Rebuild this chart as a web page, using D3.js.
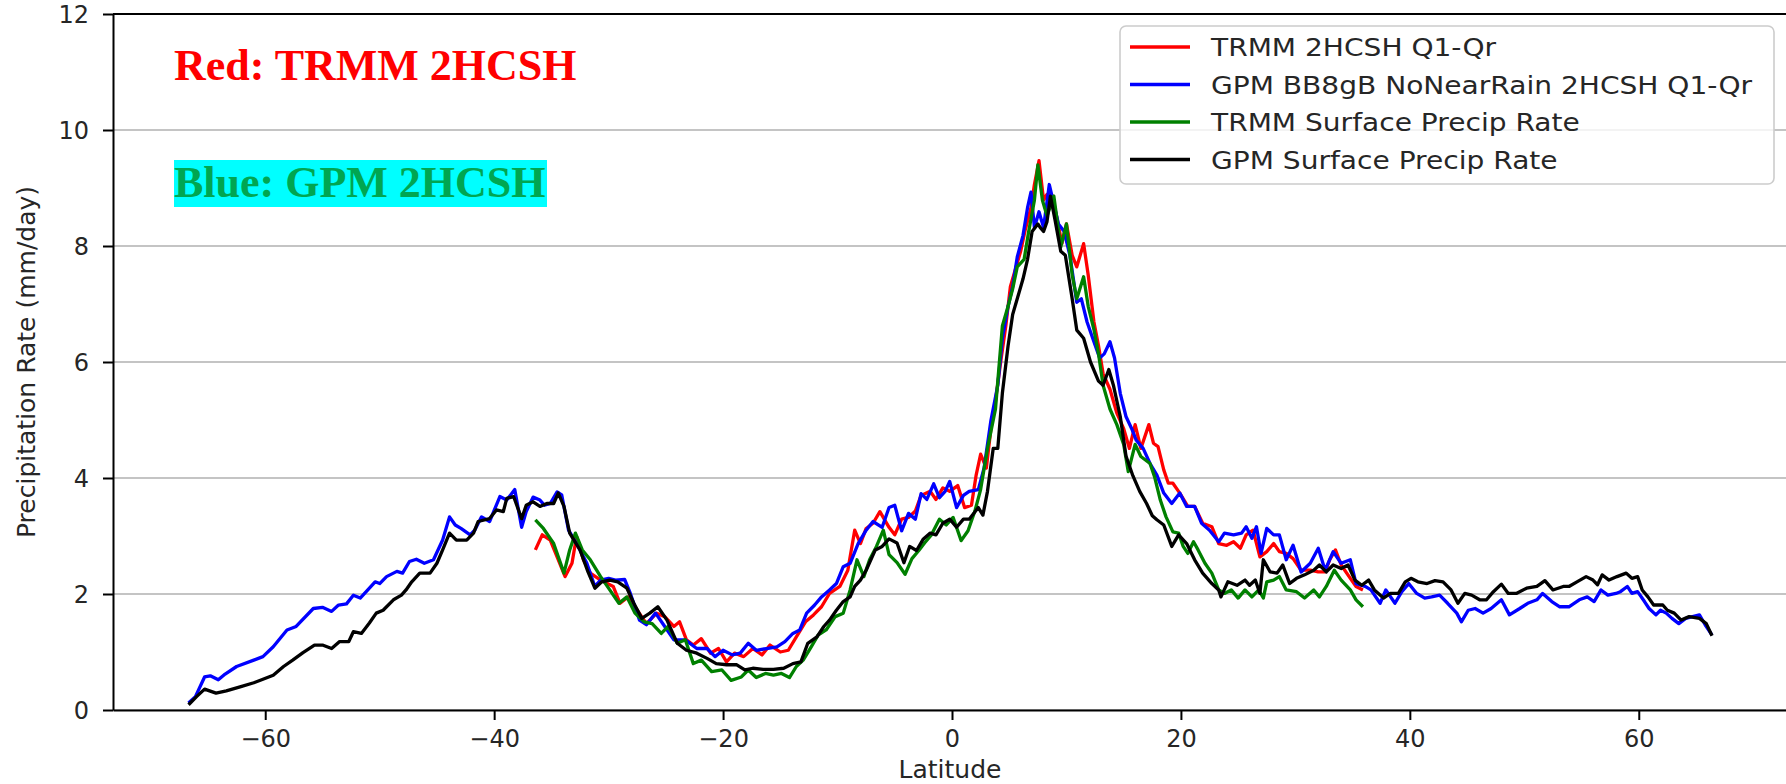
<!DOCTYPE html>
<html>
<head>
<meta charset="utf-8">
<script src="https://cdn.jsdelivr.net/npm/d3@7"></script>
<style>
	body { margin: 0; background: #fff; }
	svg { display: block; font-family: "DejaVu Sans", sans-serif; }
</style>
</head>
<body>
<script>
// values: [latitude, precipitation rate (mm/day)]
var trmmQ1Qr = [[-36.4,2.76],[-35.8,3.02],[-35.1,2.93],[-34.5,2.64],[-33.8,2.30],[-33.2,2.53],[-32.8,2.99],[-32.2,2.59],[-31.6,2.36],[-30.7,2.24],[-29.6,2.13],[-29.0,1.84],[-28.3,1.95],[-27.5,1.72],[-26.7,1.49],[-25.8,1.67],[-25.1,1.61],[-24.3,1.44],[-23.8,1.52],[-23.2,1.21],[-22.6,1.12],[-21.9,1.23],[-21.1,0.98],[-20.4,1.06],[-19.7,0.83],[-19.0,0.98],[-18.2,0.92],[-17.4,1.06],[-16.6,0.95],[-15.9,1.12],[-15.0,1.00],[-14.3,1.03],[-13.6,1.26],[-12.8,1.52],[-12.1,1.64],[-11.4,1.78],[-10.7,2.01],[-9.8,2.13],[-9.1,2.41],[-8.5,3.10],[-8.0,2.87],[-7.5,3.13],[-6.9,3.22],[-6.3,3.42],[-5.5,3.15],[-5.0,3.02],[-4.4,3.29],[-3.8,3.32],[-3.2,3.43],[-2.7,3.70],[-1.9,3.77],[-1.4,3.63],[-0.8,3.83],[-0.2,3.77],[0.5,3.87],[1.1,3.49],[1.7,3.53],[2.1,4.04],[2.5,4.41],[3.0,4.17],[3.4,4.85],[3.8,5.33],[4.3,6.07],[4.7,6.62],[5.1,7.30],[5.6,7.64],[6.0,7.91],[6.4,8.28],[6.9,8.66],[7.2,9.06],[7.6,9.47],[8.0,8.79],[8.3,8.89],[8.7,8.89],[9.2,8.45],[9.6,8.04],[10.0,8.38],[10.5,7.84],[10.9,7.64],[11.5,8.04],[11.9,7.50],[12.4,6.69],[12.8,6.28],[13.2,5.80],[13.8,5.53],[14.4,5.12],[15.0,4.85],[15.5,4.51],[16.0,4.92],[16.5,4.51],[17.2,4.92],[17.6,4.60],[18.0,4.54],[18.5,4.14],[18.9,3.91],[19.3,3.91],[19.9,3.74],[20.6,3.51],[21.2,3.51],[21.9,3.22],[22.7,3.16],[23.3,2.87],[24.0,2.84],[24.6,2.90],[25.2,2.79],[25.7,3.02],[26.3,3.10],[26.9,2.64],[27.5,2.73],[28.1,2.87],[28.6,2.73],[29.2,2.70],[29.8,2.61],[30.5,2.41],[31.3,2.41],[32.0,2.38],[32.6,2.38],[33.0,2.59],[33.5,2.76],[34.0,2.50],[34.8,2.27],[35.3,2.13],[35.9,2.07]];

var gpmQ1Qr = [[-66.7,0.12],[-66.1,0.23],[-65.3,0.57],[-64.8,0.59],[-64.1,0.52],[-63.5,0.62],[-62.5,0.75],[-61.0,0.86],[-60.2,0.92],[-59.3,1.09],[-58.1,1.38],[-57.3,1.44],[-55.8,1.75],[-55.0,1.77],[-54.2,1.70],[-53.6,1.81],[-52.9,1.83],[-52.3,1.98],[-51.7,1.93],[-50.4,2.21],[-50.0,2.18],[-49.4,2.30],[-48.5,2.39],[-48.0,2.36],[-47.4,2.56],[-46.8,2.60],[-46.1,2.53],[-45.3,2.59],[-44.5,2.93],[-43.9,3.33],[-43.4,3.19],[-42.9,3.13],[-42.1,3.02],[-41.7,3.10],[-41.1,3.33],[-40.4,3.25],[-39.5,3.68],[-38.9,3.62],[-38.2,3.80],[-37.6,3.15],[-37.2,3.42],[-36.6,3.67],[-36.0,3.62],[-35.6,3.53],[-35.1,3.56],[-34.5,3.76],[-34.1,3.71],[-33.5,3.10],[-32.8,2.87],[-31.9,2.53],[-31.2,2.13],[-30.7,2.24],[-30.0,2.27],[-29.4,2.24],[-28.6,2.25],[-28.1,2.01],[-27.3,1.55],[-26.7,1.47],[-25.9,1.67],[-25.2,1.47],[-24.3,1.21],[-23.3,1.21],[-22.3,1.06],[-21.4,1.06],[-20.7,0.92],[-20.0,1.03],[-19.2,0.95],[-18.5,0.98],[-17.8,1.15],[-17.1,1.03],[-16.2,1.06],[-15.3,1.09],[-14.6,1.18],[-13.9,1.32],[-13.3,1.38],[-12.7,1.67],[-12.0,1.81],[-11.4,1.95],[-10.7,2.07],[-10.1,2.18],[-9.5,2.47],[-8.9,2.53],[-8.2,2.87],[-7.5,3.10],[-6.9,3.25],[-6.1,3.15],[-5.5,3.49],[-5.0,3.53],[-4.4,3.09],[-3.8,3.39],[-3.2,3.29],[-2.7,3.73],[-2.2,3.63],[-1.6,3.90],[-1.1,3.66],[-0.6,3.77],[-0.2,3.94],[0.4,3.49],[1.0,3.70],[1.5,3.77],[2.3,3.80],[2.8,4.17],[3.4,4.99],[4.0,5.60],[4.4,6.41],[4.9,6.96],[5.3,7.30],[5.7,7.81],[6.2,8.18],[6.6,8.66],[6.9,8.93],[7.2,8.32],[7.6,8.59],[8.0,8.32],[8.5,9.06],[8.9,8.72],[9.3,8.38],[9.8,8.25],[10.3,7.84],[10.9,7.03],[11.3,7.09],[11.8,6.69],[12.4,6.35],[12.9,6.07],[13.3,6.14],[13.8,6.35],[14.2,6.07],[14.7,5.46],[15.2,5.06],[15.7,4.85],[16.1,4.65],[16.7,4.51],[17.3,4.25],[17.9,4.05],[18.5,3.74],[19.2,3.56],[19.9,3.74],[20.5,3.51],[21.2,3.51],[21.8,3.22],[22.5,3.10],[23.3,2.90],[23.8,3.05],[24.6,3.02],[25.3,3.05],[25.7,3.16],[26.2,2.96],[26.6,3.16],[27.0,2.70],[27.5,3.13],[28.1,3.02],[28.6,3.02],[29.2,2.59],[29.8,2.84],[30.5,2.38],[31.3,2.53],[32.0,2.79],[32.6,2.41],[33.3,2.73],[34.0,2.53],[34.8,2.59],[35.3,2.18],[36.1,2.13],[36.6,2.07],[37.4,1.84],[37.9,2.07],[38.7,1.84],[39.3,2.04],[39.9,2.18],[40.6,2.01],[41.3,1.93],[41.9,1.95],[42.6,1.98],[43.3,1.84],[44.1,1.67],[44.5,1.52],[45.1,1.72],[45.7,1.75],[46.4,1.67],[47.1,1.75],[48.0,1.90],[48.7,1.64],[49.6,1.75],[50.3,1.84],[51.1,1.90],[51.6,2.01],[52.4,1.87],[53.1,1.78],[53.9,1.78],[54.8,1.90],[55.5,1.95],[56.1,1.87],[56.7,2.07],[57.3,1.98],[58.0,2.01],[58.4,2.04],[59.0,2.13],[59.4,2.01],[59.9,2.04],[60.5,1.87],[60.9,1.75],[61.5,1.64],[61.9,1.72],[62.4,1.67],[62.9,1.58],[63.5,1.49],[64.1,1.58],[64.7,1.61],[65.3,1.64],[65.8,1.47],[66.4,1.29]];

var trmmSurf = [[-36.4,3.28],[-35.7,3.13],[-34.8,2.87],[-33.9,2.36],[-33.4,2.76],[-32.9,3.05],[-32.3,2.76],[-31.6,2.59],[-30.7,2.30],[-29.9,2.07],[-29.1,1.84],[-28.4,1.95],[-27.7,1.67],[-26.9,1.52],[-26.2,1.49],[-25.4,1.32],[-24.8,1.44],[-24.0,1.15],[-23.3,1.21],[-22.6,0.80],[-21.9,0.86],[-21.0,0.66],[-20.1,0.69],[-19.3,0.51],[-18.4,0.57],[-17.8,0.69],[-17.1,0.56],[-16.3,0.63],[-15.6,0.60],[-14.9,0.63],[-14.2,0.56],[-13.6,0.75],[-13.0,0.86],[-12.3,1.09],[-11.7,1.29],[-11.0,1.38],[-10.2,1.61],[-9.5,1.67],[-8.9,2.07],[-8.3,2.59],[-7.7,2.30],[-7.2,2.59],[-6.6,2.82],[-6.0,3.10],[-5.5,2.68],[-4.8,2.54],[-4.1,2.34],[-3.5,2.61],[-2.9,2.75],[-2.4,2.88],[-1.8,3.02],[-1.1,3.29],[-0.5,3.19],[0.1,3.32],[0.8,2.92],[1.4,3.09],[2.0,3.43],[2.5,3.80],[3.1,4.51],[3.8,5.19],[4.4,6.62],[4.9,6.96],[5.3,7.26],[5.7,7.64],[6.3,7.77],[6.7,8.25],[7.2,8.79],[7.5,9.40],[7.9,8.79],[8.3,8.52],[8.9,8.86],[9.5,7.98],[10.0,8.38],[10.5,7.50],[10.9,7.09],[11.5,7.47],[11.9,6.96],[12.4,6.56],[12.8,6.14],[13.2,5.60],[13.8,5.19],[14.4,4.92],[15.0,4.58],[15.4,4.11],[16.0,4.58],[16.5,4.37],[17.3,4.25],[17.7,4.02],[18.2,3.62],[18.7,3.33],[19.3,3.07],[19.8,3.05],[20.2,2.82],[20.6,2.70],[21.1,2.90],[21.5,2.76],[22.1,2.53],[22.7,2.36],[23.3,2.07],[23.8,2.01],[24.4,2.07],[25.0,1.93],[25.6,2.07],[26.2,1.95],[26.8,2.07],[27.2,1.93],[27.5,2.21],[28.1,2.24],[28.6,2.30],[29.2,2.07],[30.1,2.04],[30.8,1.93],[31.6,2.07],[32.1,1.95],[32.7,2.13],[33.4,2.41],[34.0,2.24],[34.8,2.07],[35.3,1.90],[35.9,1.78]];

var gpmSurf = [[-66.7,0.09],[-66.0,0.23],[-65.3,0.36],[-64.3,0.29],[-63.4,0.33],[-62.2,0.40],[-61.0,0.47],[-60.2,0.53],[-59.3,0.60],[-58.4,0.75],[-57.6,0.86],[-56.7,0.99],[-55.7,1.12],[-55.0,1.12],[-54.2,1.06],[-53.5,1.18],[-52.7,1.18],[-52.3,1.35],[-51.6,1.32],[-50.9,1.50],[-50.3,1.67],[-49.7,1.72],[-48.8,1.90],[-48.1,1.98],[-47.7,2.07],[-47.2,2.21],[-46.5,2.36],[-45.6,2.36],[-45.0,2.53],[-44.5,2.76],[-43.9,3.05],[-43.3,2.93],[-42.4,2.93],[-41.8,3.05],[-41.4,3.25],[-40.4,3.30],[-39.8,3.45],[-39.2,3.42],[-38.9,3.65],[-38.3,3.68],[-37.6,3.30],[-37.2,3.53],[-36.6,3.59],[-36.0,3.51],[-35.4,3.56],[-34.8,3.56],[-34.4,3.74],[-33.9,3.51],[-33.4,3.05],[-32.5,2.76],[-31.8,2.38],[-31.2,2.10],[-30.6,2.21],[-29.9,2.24],[-29.2,2.21],[-28.4,2.10],[-27.8,1.84],[-27.1,1.58],[-26.4,1.67],[-25.7,1.78],[-24.9,1.55],[-24.0,1.15],[-23.2,1.03],[-22.3,0.98],[-21.4,0.89],[-20.6,0.80],[-19.7,0.78],[-18.8,0.78],[-18.1,0.69],[-17.4,0.72],[-16.5,0.70],[-15.6,0.70],[-14.7,0.72],[-13.9,0.80],[-13.2,0.83],[-12.6,1.15],[-11.8,1.26],[-11.2,1.44],[-10.7,1.55],[-10.1,1.72],[-9.5,1.87],[-8.9,1.95],[-8.5,2.13],[-8.0,2.24],[-7.5,2.41],[-6.7,2.76],[-6.1,2.82],[-5.5,2.95],[-4.8,2.88],[-4.2,2.54],[-3.7,2.82],[-3.1,2.75],[-2.5,2.95],[-1.9,3.05],[-1.4,3.02],[-0.8,3.22],[-0.2,3.29],[0.4,3.15],[1.0,3.29],[1.5,3.29],[2.3,3.49],[2.7,3.36],[3.1,3.77],[3.6,4.51],[4.0,4.51],[4.4,5.46],[4.9,6.28],[5.3,6.82],[5.7,7.09],[6.2,7.43],[6.6,7.77],[7.0,8.25],[7.5,8.38],[7.7,8.32],[8.0,8.25],[8.3,8.42],[8.6,8.86],[9.0,8.45],[9.5,7.91],[9.9,7.84],[10.5,7.09],[10.9,6.55],[11.5,6.41],[12.1,6.00],[12.8,5.67],[13.2,5.60],[13.7,5.87],[14.1,5.60],[14.7,5.06],[15.2,4.38],[15.8,4.04],[16.4,3.77],[17.0,3.56],[17.5,3.35],[17.9,3.28],[18.5,3.19],[19.2,2.82],[19.8,3.02],[20.5,2.87],[21.2,2.59],[21.9,2.36],[22.7,2.18],[23.3,2.07],[23.5,1.95],[24.1,2.21],[24.9,2.15],[25.6,2.24],[26.0,2.15],[26.5,2.24],[26.9,2.01],[27.2,2.59],[27.8,2.38],[28.4,2.36],[28.9,2.50],[29.5,2.18],[30.1,2.27],[30.8,2.33],[31.6,2.41],[32.1,2.50],[32.7,2.38],[33.3,2.50],[34.0,2.44],[34.6,2.50],[35.2,2.24],[35.8,2.15],[36.4,2.24],[36.9,2.07],[37.7,1.93],[38.3,2.01],[39.0,2.01],[39.6,2.21],[40.1,2.27],[40.7,2.21],[41.5,2.18],[42.2,2.23],[42.9,2.21],[43.6,2.07],[44.2,1.84],[44.8,2.01],[45.4,1.98],[46.1,1.90],[46.7,1.90],[47.3,2.04],[48.0,2.17],[48.6,2.01],[49.3,2.01],[50.2,2.10],[51.1,2.13],[51.8,2.23],[52.5,2.07],[53.4,2.13],[53.9,2.13],[54.6,2.21],[55.4,2.30],[56.0,2.24],[56.4,2.16],[56.8,2.33],[57.4,2.24],[58.1,2.30],[58.9,2.36],[59.4,2.27],[59.9,2.30],[60.3,2.07],[60.8,1.95],[61.3,1.81],[62.1,1.81],[62.5,1.72],[63.1,1.67],[63.7,1.55],[64.4,1.61],[65.3,1.58],[65.9,1.49],[66.4,1.28]];

var seriesNames = ["TRMM 2HCSH Q1-Qr", "GPM BB8gB NoNearRain 2HCSH Q1-Qr", "TRMM Surface Precip Rate", "GPM Surface Precip Rate"];
var seriesColors = ["#ff0000", "#0000ff", "#008000", "#000000"];
var xTicks = [-60, -40, -20, 0, 20, 40, 60];
var yTicks = [0, 2, 4, 6, 8, 10, 12];

var width = 1786;
var height = 784;
var svg = d3.select("body").append("svg")
	.attr("width", width)
	.attr("height", height);

svg.append("rect").attr("width", width).attr("height", height).attr("fill", "#fff");

// plot box (right spine falls just outside the picture)
var pLeft = 113, pRight = 1791, pTop = 14, pBottom = 710;
var x = d3.scaleLinear().domain([-73.3, 73.3]).range([pLeft, pRight]);
var y = d3.scaleLinear().domain([0, 12]).range([pBottom, pTop]);

/*************************************************/
// horizontal grid
svg.append("g").selectAll("line")
	.data(yTicks)
	.enter().append("line")
	.attr("x1", pLeft).attr("x2", pRight)
	.attr("y1", function (d) { return y(d) })
	.attr("y2", function (d) { return y(d) })
	.attr("stroke", "#b0b0b0")
	.attr("stroke-width", 1.6);

/*************************************************/
// series
svg.append("clipPath").attr("id", "clip")
	.append("rect").attr("x", pLeft).attr("y", pTop).attr("width", pRight - pLeft).attr("height", pBottom - pTop);

var line = d3.line()
	.x(function (d) { return x(d[0]) })
	.y(function (d) { return y(d[1]) });

var series = [trmmQ1Qr, gpmQ1Qr, trmmSurf, gpmSurf];
svg.append("g").attr("clip-path", "url(#clip)")
	.selectAll("path")
	.data(series)
	.enter().append("path")
	.attr("d", line)
	.attr("fill", "none")
	.attr("stroke", function (d, i) { return seriesColors[i] })
	.attr("stroke-width", 3.3)
	.attr("stroke-linejoin", "round");

/*************************************************/
// axes and spines
var xAxis = svg.append("g")
	.attr("transform", "translate(0," + pBottom + ")")
	.call(d3.axisBottom(x).tickValues(xTicks).tickSize(10).tickSizeOuter(0));
xAxis.selectAll("text")
	.attr("y", 37).attr("dy", 0)
	.attr("font-size", 24)
	.attr("font-family", "DejaVu Sans")
	.attr("fill", "#262626");

var yAxis = svg.append("g")
	.attr("transform", "translate(" + pLeft + ",0)")
	.call(d3.axisLeft(y).tickValues(yTicks).tickSize(10).tickSizeOuter(0).tickFormat(d3.format("d")));
yAxis.selectAll("text")
	.attr("x", -24).attr("dy", "0.36em")
	.attr("font-size", 24)
	.attr("font-family", "DejaVu Sans")
	.attr("fill", "#262626");

svg.selectAll(".domain").attr("stroke", "#000").attr("stroke-width", 2);
svg.selectAll(".tick line").attr("stroke", "#000").attr("stroke-width", 2);

svg.append("line")
	.attr("x1", pLeft).attr("x2", pRight)
	.attr("y1", pTop).attr("y2", pTop)
	.attr("stroke", "#000").attr("stroke-width", 2);

svg.append("text")
	.attr("x", 950).attr("y", 778)
	.attr("text-anchor", "middle")
	.attr("font-size", 25)
	.attr("fill", "#262626")
	.text("Latitude");

svg.append("text")
	.attr("transform", "translate(35," + ((pTop + pBottom) / 2) + ") rotate(-90)")
	.attr("text-anchor", "middle")
	.attr("font-size", 25)
	.attr("fill", "#262626")
	.text("Precipitation Rate (mm/day)");

/*************************************************/
// legend
var legend = svg.append("g");
legend.append("rect")
	.attr("x", 1120).attr("y", 26)
	.attr("width", 654).attr("height", 158)
	.attr("rx", 6)
	.attr("fill", "#fff").attr("fill-opacity", 0.8)
	.attr("stroke", "#cccccc").attr("stroke-width", 1.6);

var entry = legend.selectAll(".entry")
	.data(seriesNames)
	.enter().append("g")
	.attr("class", "entry")
	.attr("transform", function (d, i) { return "translate(0," + (47 + i * 37.5) + ")" });
entry.append("line")
	.attr("x1", 1130).attr("x2", 1190)
	.attr("stroke", function (d, i) { return seriesColors[i] })
	.attr("stroke-width", 3.3);
entry.append("text")
	.attr("transform", "translate(1211,9) scale(1.17,1)")
	.attr("font-size", 24)
	.attr("fill", "#262626")
	.text(function (d) { return d });

/*************************************************/
// annotations
svg.append("text")
	.attr("x", 174).attr("y", 80)
	.attr("font-family", "Liberation Serif")
	.attr("font-weight", "bold")
	.attr("font-size", 44)
	.attr("fill", "#ff0000")
	.text("Red: TRMM 2HCSH");

svg.append("rect")
	.attr("x", 174).attr("y", 160)
	.attr("width", 373).attr("height", 47)
	.attr("fill", "#00ffff");
svg.append("text")
	.attr("x", 174).attr("y", 197)
	.attr("font-family", "Liberation Serif")
	.attr("font-weight", "bold")
	.attr("font-size", 44)
	.attr("fill", "#00a651")
	.text("Blue: GPM 2HCSH");
</script>
</body>
</html>
